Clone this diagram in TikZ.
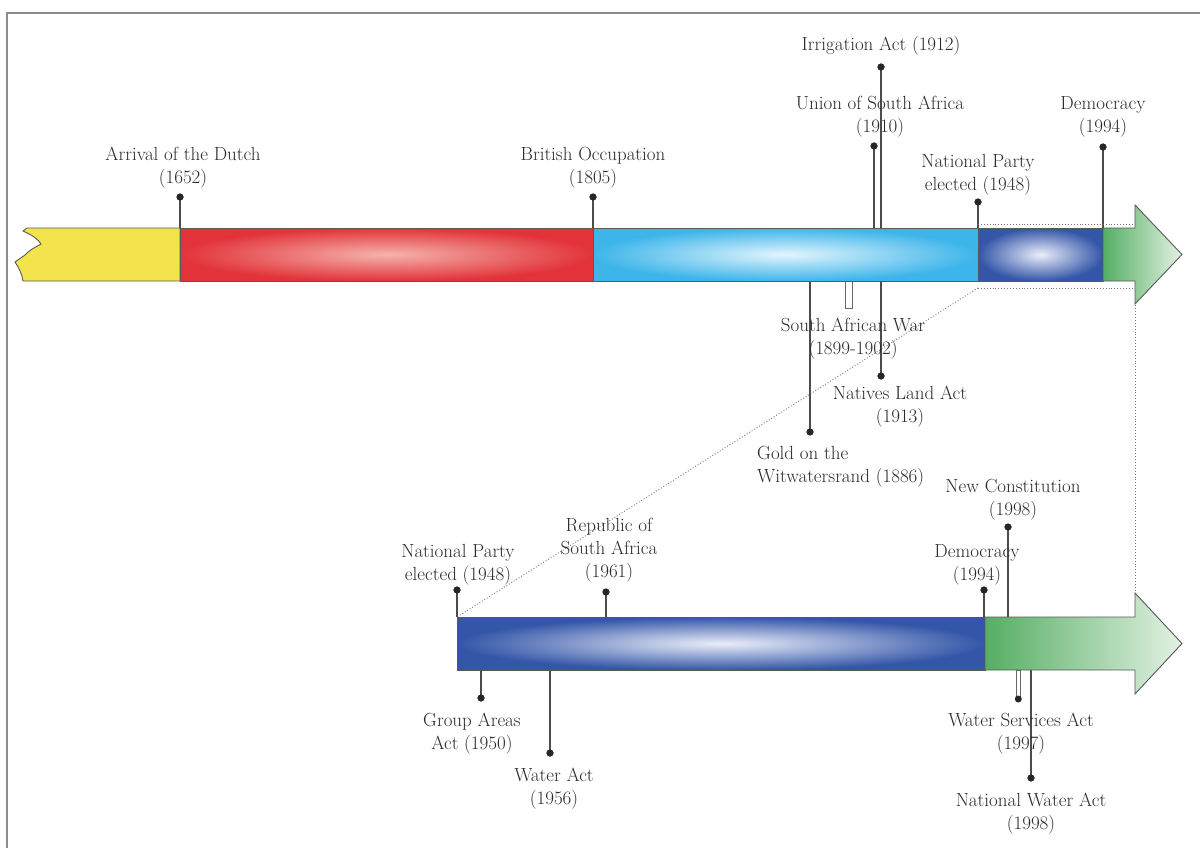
\documentclass[tikz,border=0pt]{standalone}
\usepackage{tikz}
\definecolor{yel}{HTML}{F3E44E}
\definecolor{redo}{HTML}{E2333A}
\definecolor{redi}{HTML}{F5B3AC}
\definecolor{lbo}{HTML}{3DB5EA}
\definecolor{lbi}{HTML}{E3F5FD}
\definecolor{dbo}{HTML}{3456A8}
\definecolor{dbi}{HTML}{EAEEF9}
\definecolor{gra}{HTML}{55AE63}
\definecolor{grb}{HTML}{E3F1E3}
\definecolor{txt}{HTML}{2A2A2A}
\tikzset{
  dot/.style={circle,fill=black!85,inner sep=0pt,minimum size=7pt},
  stem/.style={draw=black!70,line width=1.2pt},
  lbl/.style={font=\fontsize{19}{23}\selectfont,text=txt,align=center,inner sep=0pt,anchor=north},
  barline/.style={draw=black!65,line width=0.9pt},
  zoomline/.style={draw=black!55,dotted,line width=0.9pt},
  frameline/.style={draw=black!45,line width=1.6pt}
}
\newcommand\mk[4]{%
  \draw[stem] (#2,#3) coordinate (#1) -- (#2,#4) coordinate (#1b);
  \node[dot] (#1d) at (#1) {};}
\begin{document}
\begin{tikzpicture}[x=1pt,y=-1pt]
\useasboundingbox (0,0) rectangle (1200,848);
% frame
\draw[frameline] (7,848) -- (7,13) -- (1200,13);

% stems (top bar)
\mk{ma}{180}{197}{228}
\mk{mb}{593}{197}{228}
\mk{mc}{881}{67}{228}
\mk{md}{874}{146}{228}
\mk{me}{978}{202}{228}
\mk{mf}{1103}{147}{228}
\mk{mg}{810}{432}{281}
\mk{mh}{881}{376}{281}
% stems (lower bar)
\mk{mi}{457}{590}{617}
\mk{mj}{606}{592}{617}
\mk{mk}{984}{590}{617}
\mk{ml}{1008}{527}{617}
\mk{mm}{481}{698}{670}
\mk{mn}{550}{753}{670}
\mk{mo}{1031}{778}{670}
% Water Services Act marker (narrow open bar)
\draw[draw=black!60,fill=white,line width=0.8pt] (1016.5,670) rectangle (1020,697);
\node[dot] (mpd) at (1018.3,699) {};
% South African War marker (open bar)
\draw[draw=black!60,fill=white,line width=0.9pt] (845,281) rectangle (852,308);

% zoom indication
\coordinate (zA) at (978,224);
\coordinate (zB) at (1135,224);
\coordinate (zC) at (978,288);
\coordinate (zD) at (1135,288);
\coordinate (zE) at (457,617);
\coordinate (zF) at (1135,593);
\draw[zoomline] (zA) -- (zB);
\draw[zoomline] (zC) -- (zD);
\draw[zoomline] (zC) -- (zE);
\draw[zoomline] (zD) -- (zF);

% top bar
\filldraw[barline,fill=yel] (180,228) -- (27,228) -- (23,231)
  .. controls (32,235) and (38,239) .. (41,244)
  .. controls (34,248) and (28,251) .. (25,255)
  -- (15,262) .. controls (19,268) and (22,274) .. (23,281) -- (180,281) -- cycle;
\shade[inner color=redi,outer color=redo] (180,228) rectangle (593,281);
\draw[barline] (180,228) rectangle (593,281);
\shade[inner color=lbi,outer color=lbo] (593,228) rectangle (978,281);
\draw[barline] (593,228) rectangle (978,281);
\shade[inner color=dbi,outer color=dbo] (978,228) rectangle (1103,281);
\draw[barline] (978,228) rectangle (1103,281);
\shade[left color=gra,right color=grb,draw=black!65,line width=0.9pt]
  (1103,228) -- (1135,228) -- (1135,205) -- (1182,254.5) -- (1135,304)
  -- (1135,281) -- (1103,281) -- cycle;

% lower bar
\shade[inner color=dbi,outer color=dbo] (457,617) rectangle (985,670);
\draw[barline] (457,617) rectangle (985,670);
\shade[left color=gra,right color=grb,draw=black!65,line width=0.9pt]
  (985,617) -- (1135,617) -- (1135,593) -- (1182,643.5) -- (1135,694)
  -- (1135,670) -- (985,670) -- cycle;

% redraw dots on top
\foreach \n in {ma,mb,mc,md,me,mf,mg,mh,mi,mj,mk,ml,mm,mn,mo}{\node[dot] (\n x) at (\n) {};}

% labels
\node[lbl] (la) at (183,147) {Arrival of the Dutch\\(1652)};
\node[lbl] (lb) at (593,147) {British Occupation\\(1805)};
\node[lbl] (lc) at (881,36) {Irrigation Act (1912)};
\node[lbl] (ld) at (880,96) {Union of South Africa\\(1910)};
\node[lbl] (lf) at (1103,96) {Democracy\\(1994)};
\node[lbl] (le) at (978,154) {National Party\\elected (1948)};
\node[lbl] (lw) at (853,318) {South African War\\(1899-1902)};
\node[lbl] (lh) at (900,386) {Natives Land Act\\(1913)};
\node[lbl,align=left,anchor=north west] (lg) at (757,446) {Gold on the\\Witwatersrand (1886)};
\node[lbl] (li) at (458,544) {National Party\\elected (1948)};
\node[lbl] (lj) at (609,518) {Republic of\\South Africa\\(1961)};
\node[lbl] (lk) at (977,544) {Democracy\\(1994)};
\node[lbl] (ll) at (1013,479) {New Constitution\\(1998)};
\node[lbl] (lm) at (472,713) {Group Areas\\Act (1950)};
\node[lbl] (ln) at (554,768) {Water Act\\(1956)};
\node[lbl] (lp) at (1021,713) {Water Services Act\\(1997)};
\node[lbl] (lo) at (1031,793) {National Water Act\\(1998)};
\end{tikzpicture}
\end{document}
